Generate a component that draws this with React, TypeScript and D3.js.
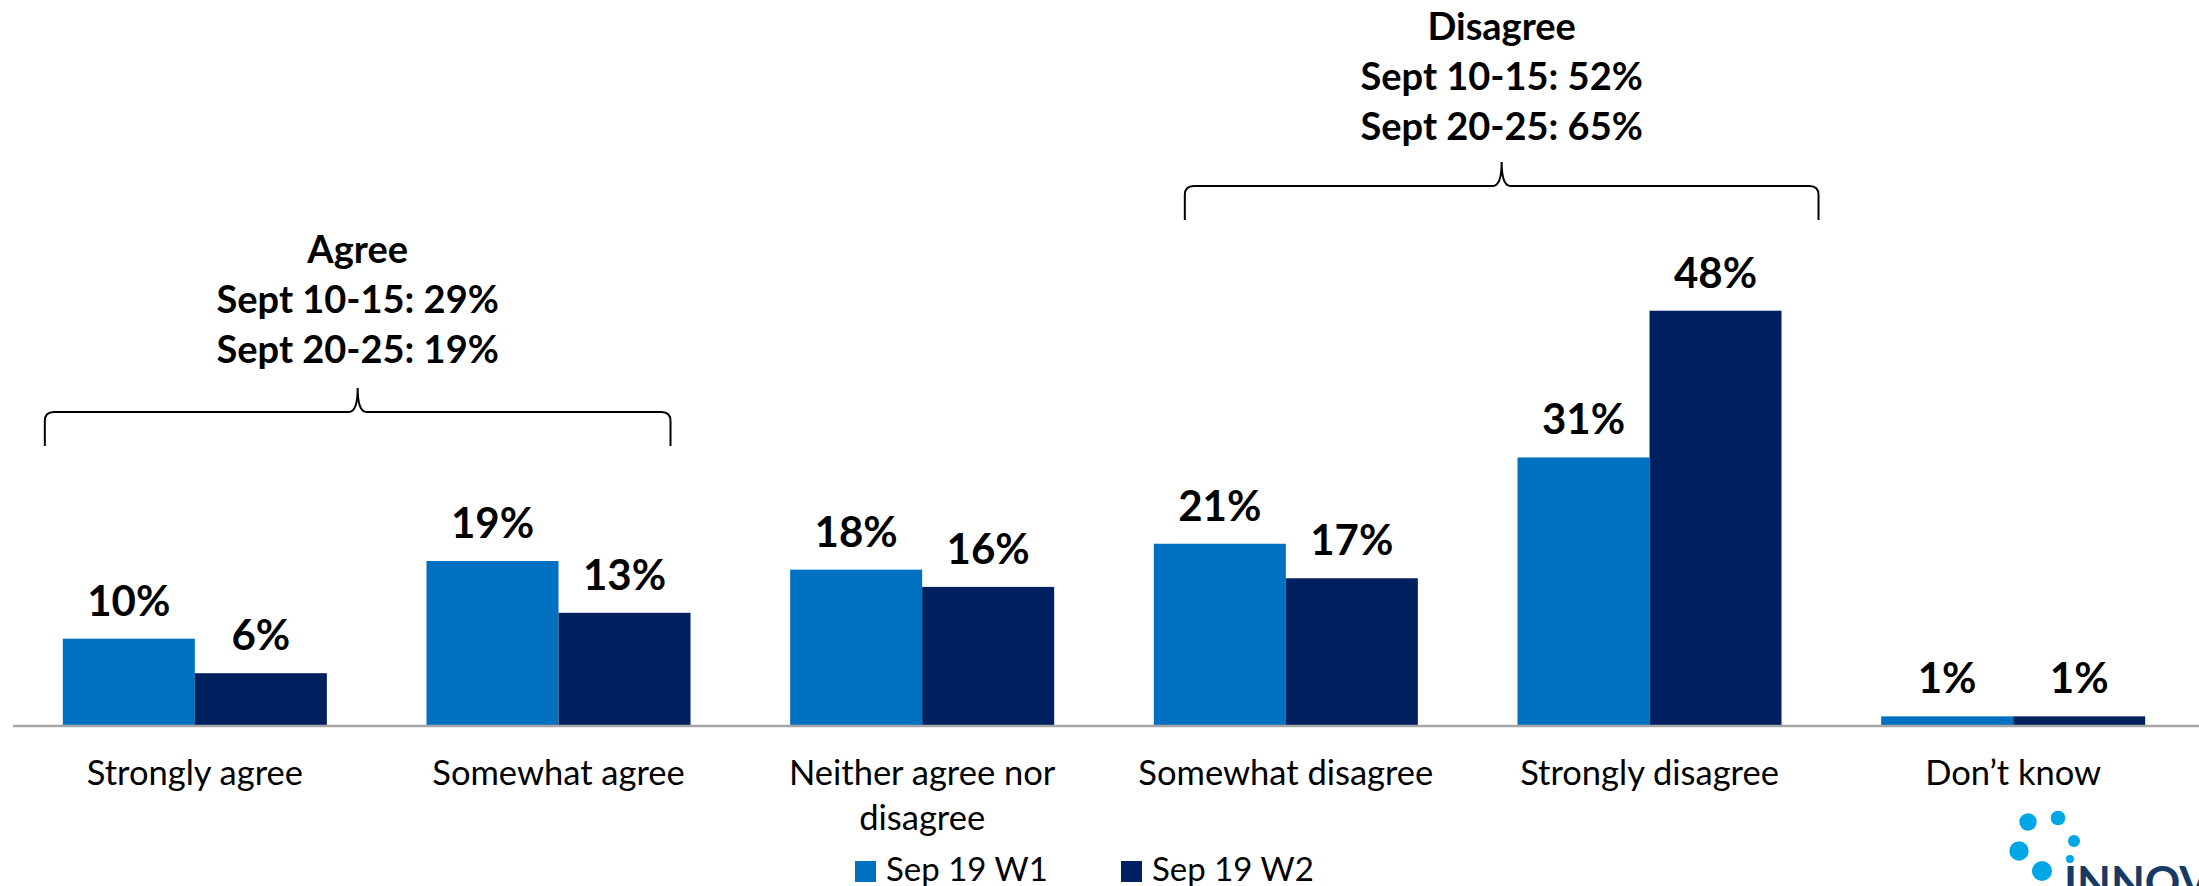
import React, { useEffect, useRef } from 'react';
import * as d3 from 'd3';

const categories = [
  'Strongly agree',
  'Somewhat agree',
  'Neither agree nor disagree',
  'Somewhat disagree',
  'Strongly disagree',
  'Don\u2019t know',
];
const seriesNames = ['Sep 19 W1', 'Sep 19 W2'];
const w1Values = [10, 19, 18, 21, 31, 1];
const w2Values = [6, 13, 16, 17, 48, 1];

const agreeLines = ['Agree', 'Sept 10-15: 29%', 'Sept 20-25: 19%'];
const disagreeLines = ['Disagree', 'Sept 10-15: 52%', 'Sept 20-25: 65%'];

const COLORS = ['#0070C0', '#002060'];
const FONT = 'Lato, "Open Sans", sans-serif';

const App: React.FC = () => {
  const svgRef = useRef<SVGSVGElement>(null);

  useEffect(() => {
    if (!svgRef.current) return;
    const width = 2199;
    const height = 886;
    const baseY = 725;

    const svg = d3.select(svgRef.current).attr('width', width).attr('height', height).html('');

    const x0 = d3.scaleBand<string>()
      .domain(categories)
      .range([13, 2195])
      .paddingInner(0.274)
      .paddingOuter(0.137);
    const x1 = d3.scaleBand<string>().domain(seriesNames).range([0, x0.bandwidth()]);
    const y = d3.scaleLinear().domain([0, 48]).range([baseY, 310.7]);

    const rows = categories.map((c, i) => ({ cat: c, vals: [w1Values[i], w2Values[i]] }));

    // bars + value labels
    const grp = svg.selectAll('.grp').data(rows).enter().append('g')
      .attr('transform', d => `translate(${x0(d.cat)},0)`);

    grp.selectAll('rect')
      .data(d => d.vals.map((v, k) => ({ v, s: seriesNames[k], k })))
      .enter().append('rect')
      .attr('x', d => x1(d.s)!)
      .attr('width', x1.bandwidth())
      .attr('y', d => y(d.v))
      .attr('height', d => baseY - y(d.v))
      .attr('fill', d => COLORS[d.k]);

    grp.selectAll('text.val')
      .data(d => d.vals.map((v, k) => ({ v, s: seriesNames[k] })))
      .enter().append('text')
      .attr('x', d => x1(d.s)! + x1.bandwidth() / 2)
      .attr('y', d => y(d.v) - 23)
      .attr('text-anchor', 'middle')
      .style('font-family', FONT)
      .style('font-weight', 700)
      .style('font-size', '42px')
      .style('fill', '#000')
      .text(d => `${d.v}%`);

    // axis line
    svg.append('line')
      .attr('x1', 13).attr('x2', width)
      .attr('y1', baseY + 1).attr('y2', baseY + 1)
      .style('stroke', '#A6A6A6')
      .style('stroke-width', 2.5);

    // category labels (the long one wraps)
    const wrap = (c: string) => (c.length > 20 ? ['Neither agree nor', 'disagree'] : [c]);
    categories.forEach(c => {
      const t = svg.append('text')
        .attr('text-anchor', 'middle')
        .style('font-family', FONT)
        .style('font-size', '34.5px')
        .style('fill', '#000');
      wrap(c).forEach((line, i) => {
        t.append('tspan')
          .attr('x', x0(c)! + x0.bandwidth() / 2)
          .attr('y', 785 + i * 45)
          .text(line);
      });
    });

    // braces with annotations
    const brace = (xl: number, xr: number, tipY: number) => {
      const xm = (xl + xr) / 2;
      const yh = tipY + 24;
      const yb = yh + 34;
      const r = 9;
      const p = `M${xl},${yb} L${xl},${yh + r} Q${xl},${yh} ${xl + r},${yh} L${xm - r},${yh}
        Q${xm},${yh} ${xm},${tipY} Q${xm},${yh} ${xm + r},${yh} L${xr - r},${yh}
        Q${xr},${yh} ${xr},${yh + r} L${xr},${yb}`;
      svg.append('path').attr('d', p)
        .style('fill', 'none').style('stroke', '#000').style('stroke-width', 2);
    };
    const annotate = (lines: string[], cx: number, top: number) => {
      lines.forEach((l, i) => {
        svg.append('text')
          .attr('x', cx).attr('y', top + i * 50)
          .attr('text-anchor', 'middle')
          .style('font-family', FONT)
          .style('font-weight', 700)
          .style('font-size', '38px')
          .style('fill', '#000')
          .text(l);
      });
    };
    const bw = x0.bandwidth();
    const aL = x0(categories[0])! - 18;
    const aR = x0(categories[1])! + bw - 20;
    annotate(agreeLines, (aL + aR) / 2, 263);
    brace(aL, aR, 263 + 125);
    const dL = x0(categories[3])! + 31;
    const dR = x0(categories[4])! + bw + 37;
    annotate(disagreeLines, (dL + dR) / 2, 40);
    brace(dL, dR, 40 + 122);

    // legend
    const legendX = [855, 1121];
    seriesNames.forEach((s, k) => {
      svg.append('rect')
        .attr('x', legendX[k]).attr('y', 861)
        .attr('width', 21).attr('height', 21)
        .attr('fill', COLORS[k]);
      svg.append('text')
        .attr('x', legendX[k] + 31).attr('y', 881)
        .style('font-family', FONT)
        .style('font-size', '33px')
        .style('fill', '#000')
        .text(s);
    });

    // logo (cut off at the corner)
    const dots: [number, number, number][] = [
      [2028, 822, 8.7], [2058, 818, 7.3], [2074, 841, 6],
      [2019, 851, 9.7], [2070, 859, 4], [2042, 871, 10],
    ];
    svg.selectAll('.dot').data(dots).enter().append('circle')
      .attr('cx', d => d[0]).attr('cy', d => d[1]).attr('r', d => d[2])
      .style('fill', '#00A6E6');
    svg.append('text')
      .attr('x', 2064).attr('y', 898)
      .style('font-family', FONT)
      .style('font-weight', 700)
      .style('font-size', '44px')
      .style('fill', '#173A64')
      .text('INNOVATIVE');
  }, []);

  return (
    <div style={{ position: 'absolute', left: 0, top: 0, background: '#fff' }}>
      <svg ref={svgRef} style={{ display: 'block' }}></svg>
    </div>
  );
};

export default App;
